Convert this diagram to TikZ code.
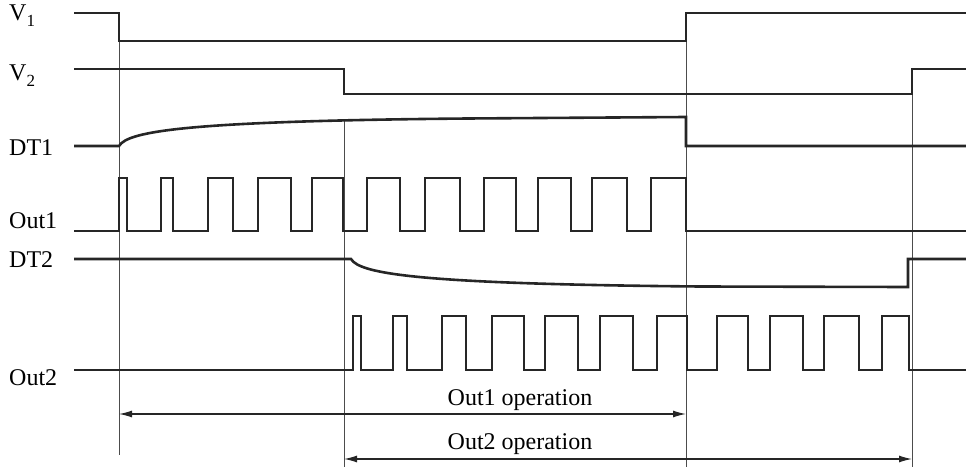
\documentclass[tikz,border=0pt]{standalone}
\usepackage{fontspec}
\setmainfont{Liberation Serif}
\usetikzlibrary{arrows.meta}

\newcommand{\vsub}[1]{\raisebox{-6pt}{\fontsize{17}{19}\selectfont#1}}

\tikzset{
  wave/.style={line width=2.6pt, black!85, line join=miter},
  guide/.style={line width=0.9pt, black!70},
  span/.style={line width=1.2pt, black!85,
    {Latex[length=13pt,width=7pt]}-{Latex[length=13pt,width=7pt]}},
  lbl/.style={anchor=base west, inner sep=0pt, font=\fontsize{24}{28}\selectfont}
}

\begin{document}
\begin{tikzpicture}[x=1pt, y=-1pt]
  \useasboundingbox (0,0) rectangle (966,470);

  \node[lbl] (v1) at (9,21) {V\vsub{1}};
  \node[lbl] (v2) at (9,81) {V\vsub{2}};
  \node[lbl] (dt1) at (9,156) {DT1};
  \node[lbl] (out1) at (9,229) {Out1};
  \node[lbl] (dt2) at (9,268) {DT2};
  \node[lbl] (out2) at (9,385) {Out2};

  \draw[guide] (119,13) -- (119,455);
  \draw[guide] (344,120) -- (344,467);
  \draw[guide] (686,13) -- (686,467);
  \draw[guide] (912,69) -- (912,467);

  \draw[wave] (74,13) -- (119,13) -- (119,41) -- (686,41) -- (686,13) -- (966,13);
  \draw[wave] (74,69) -- (344,69) -- (344,94) -- (912,94) -- (912,69) -- (966,69);
  \draw[wave] (74,146) -- (119,146) .. controls (128,131) and (188,121) .. (468,118.5)
    -- (686,117) -- (686,146) -- (966,146);
  \draw[wave] (74,231) \foreach \a/\b in {119/127,161/173,208/233,258/291,312/343,
    367/400,425/460,484/516,538/571,592/627,651/686}
    { -- (\a,231) -- (\a,178) -- (\b,178) -- (\b,231) } -- (966,231);
  \draw[wave] (74,259) -- (351,259) .. controls (360,274) and (420,284) .. (700,286.5)
    -- (908,287) -- (908,259) -- (966,259);
  \draw[wave] (74,370) \foreach \a/\b in {353/361,393/407,442/466,492/524,545/578,
    600/633,657/687,717/748,770/803,824/859,882/909}
    { -- (\a,370) -- (\a,316) -- (\b,316) -- (\b,370) } -- (966,370);

  \coordinate (op1l) at (119,414);
  \coordinate (op1r) at (686,414);
  \coordinate (op2l) at (344,459);
  \coordinate (op2r) at (912,459);
  \draw[span] (op1l) -- (op1r);
  \draw[span] (op2l) -- (op2r);
  \node[lbl, anchor=base] (op1) at (520,405) {Out1 operation};
  \node[lbl, anchor=base] (op2) at (520,449) {Out2 operation};
\end{tikzpicture}
\end{document}
